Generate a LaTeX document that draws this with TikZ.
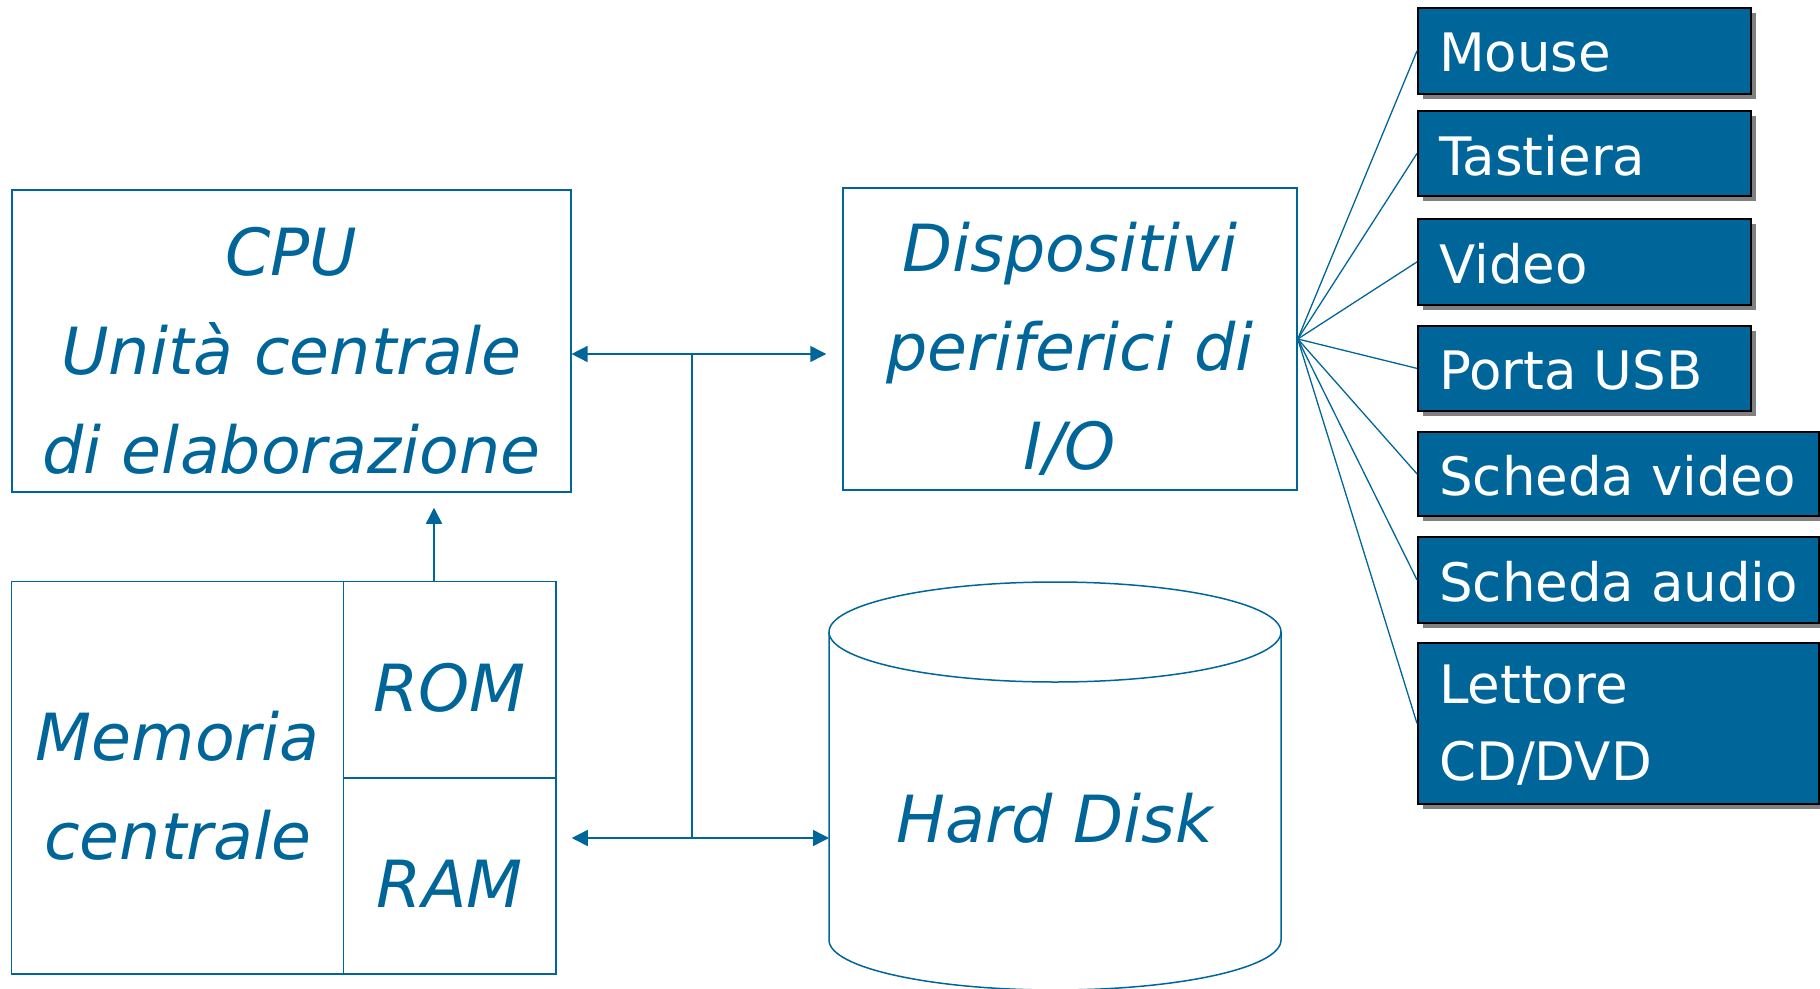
\documentclass[tikz,border=0pt]{standalone}
\usepackage{fontspec}
\setmainfont{DejaVu Sans}
\usetikzlibrary{arrows.meta,shadows,calc}
\definecolor{dblue}{HTML}{006699}
\definecolor{shgray}{HTML}{808080}
\begin{document}
\begin{tikzpicture}[x=1pt,y=-1pt,
  lbox/.style={draw=dblue,line width=1.5pt,inner sep=0pt},
  bigtext/.style={text=dblue,align=center,font=\fontsize{65}{99}\selectfont\itshape,inner sep=0pt},
  rbox/.style={draw=black,line width=1.8pt,fill=dblue,anchor=north west,inner sep=0pt,
    drop shadow={shadow xshift=5pt,shadow yshift=-5pt,fill=shgray,opacity=1}},
  rtext/.style={text=white,align=left,anchor=west,inner sep=0pt,
    font=\fontsize{53}{77}\selectfont},
  conn/.style={draw=dblue,line width=1.5pt},
  arr/.style={conn,-{Triangle[length=16pt,width=16pt]}},
  fan/.style={draw=dblue,line width=1.3pt}
]
\useasboundingbox (0,0) rectangle (1820,988);

% CPU
\node[lbox,minimum width=559pt,minimum height=302pt] (cpu) at (291.3,341) {};
\node[bigtext] (cput) at ([yshift=-10pt]cpu.center) {CPU\\Unità centrale\\di elaborazione};
% Dispositivi
\node[lbox,minimum width=454pt,minimum height=302pt] (disp) at (1070,339) {};
\node[bigtext] (dispt) at ([yshift=-10pt]disp.center) {Dispositivi\\periferici di\\I/O};
% Memory
\node[lbox,minimum width=332pt,minimum height=392.5pt] (memc) at (177.6,777.75) {};
\node[bigtext] (memt) at ([yshift=-8pt]memc.center) {Memoria\\centrale};
\node[lbox,minimum width=212.4pt,minimum height=196.2pt] (rom) at (449.8,679.6) {};
\node[bigtext] (romt) at ([yshift=-8pt]rom.center) {ROM};
\node[lbox,minimum width=212.4pt,minimum height=196.3pt] (ram) at (449.8,875.9) {};
\node[bigtext] (ramt) at ([yshift=-8pt]ram.center) {RAM};

% Hard disk cylinder
\draw[conn,fill=white] (829,632) -- (829,940) arc[start angle=180,end angle=360,x radius=226,y radius=-50]
  -- (1281,632);
\draw[conn] (1055,632) ellipse[x radius=226,y radius=50];
\node[bigtext] (hd) at (1055,818) {Hard Disk};
\coordinate (hdl) at (829,838);

% bus
\coordinate (jt) at (692,354);
\coordinate (jb) at (692,838);
\draw[conn] (jt) -- (jb);
\draw[arr] (jt) -- (jt -| cpu.east);
\draw[arr] (jt) -- ([xshift=-16pt]jt -| disp.west);
\draw[arr] (jb) -- ([xshift=15pt]jb -| ram.east);
\draw[arr] (jb) -- (hdl);
\coordinate (upb) at (434,581.5);
\draw[arr] (upb) -- ([yshift=-15pt]cpu.south -| upb);

% right boxes
\node[rbox,minimum width=333pt,minimum height=86pt] (mouse) at (1417,7) {};
\node[rbox,minimum width=333pt,minimum height=85pt] (tast) at (1417,110) {};
\node[rbox,minimum width=333pt,minimum height=86pt] (video) at (1417,218) {};
\node[rbox,minimum width=333pt,minimum height=85pt] (usb) at (1417,325) {};
\node[rbox,minimum width=401pt,minimum height=84pt] (sv) at (1417,431) {};
\node[rbox,minimum width=401pt,minimum height=86pt] (sa) at (1417,536) {};
\node[rbox,minimum width=401pt,minimum height=161pt] (cd) at (1417,642) {};
\node[rtext] (mouset) at ([xshift=22pt,yshift=-2pt]mouse.west) {Mouse};
\node[rtext] (tastt) at ([xshift=22pt,yshift=-2pt]tast.west) {Tastiera};
\node[rtext] (videot) at ([xshift=22pt,yshift=-2pt]video.west) {Video};
\node[rtext] (usbt) at ([xshift=22pt,yshift=-2pt]usb.west) {Porta USB};
\node[rtext] (svt) at ([xshift=22pt,yshift=-2pt]sv.west) {Scheda video};
\node[rtext] (sat) at ([xshift=22pt,yshift=-2pt]sa.west) {Scheda audio};
\node[rtext] (cdt) at ([xshift=22pt,yshift=-2pt]cd.west) {Lettore\\CD/DVD};

\foreach \t in {mouse,tast,video,usb,sv,sa,cd}
  \draw[fan] (disp.east) -- (\t.west);
\end{tikzpicture}
\end{document}
